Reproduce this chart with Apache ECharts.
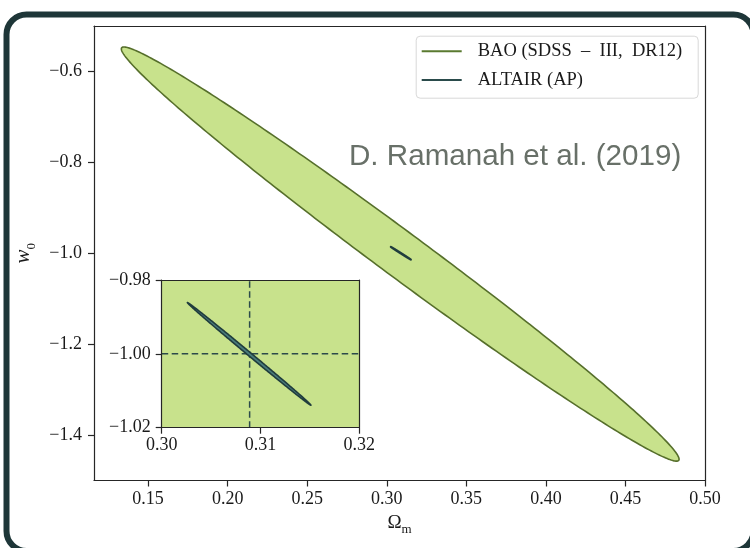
<!DOCTYPE html>
<html><head><meta charset="utf-8">
<script src="https://cdn.jsdelivr.net/npm/echarts@6/dist/echarts.min.js"></script>
<style>html,body{margin:0;padding:0;background:#fff}#c{width:750px;height:548px}</style>
</head><body><div id="c"></div>
<script>
// ---------- data ----------
const xTicks = [0.15, 0.20, 0.25, 0.30, 0.35, 0.40, 0.45, 0.50];
const yTicks = [-1.4, -1.2, -1.0, -0.8, -0.6];
const xRange = [0.116, 0.50];
const yRange = [-1.50, -0.50];
const insetXTicks = [0.30, 0.31, 0.32];
const insetYTicks = [-1.02, -1.00, -0.98];
const insetXRange = [0.30, 0.32];
const insetYRange = [-1.02, -0.98];
// confidence ellipses: two tips (Omega_m, w0) and vertical half-width at centre (w0 units)
const baoTips = [[0.1334, -0.548], [0.4835, -1.4556]];
const baoHalfWidth = 0.062;
const altairTips = [[0.3026, -0.9861], [0.3151, -1.0139]];
const altairHalfWidth = 0.0006;
const fiducial = [0.3089, -1.00];
const seriesNames = ['BAO (SDSS\u2002\u2013\u2002III,\u2002DR12)', 'ALTAIR (AP)'];
const creditText = 'D. Ramanah et al. (2019)';

// ---------- styles ----------
const SERIF = 'Liberation Serif';
const INK = '#1a1a1a';
const BAO_FILL = '#c8e28c', BAO_EDGE = '#566f2b';
const ALT_FILL = '#4a7c7c', ALT_EDGE = '#203d3d';
const DASH = '#2c4a4a';

function fmt(d) { return v => (v < 0 ? '\u2212' : '') + Math.abs(v).toFixed(d); }

function ellipseItem(fill, stroke, lw, clip) {
  return function (params, api) {
    const p1 = api.coord([api.value(0), api.value(1)]);
    const p2 = api.coord([api.value(2), api.value(3)]);
    const t = Math.abs(api.size([0, api.value(4)])[1]);
    const cx = (p1[0] + p2[0]) / 2, cy = (p1[1] + p2[1]) / 2;
    const dx = p2[0] - p1[0], dy = p2[1] - p1[1];
    const a = Math.hypot(dx, dy) / 2, th = Math.atan2(dy, dx);
    const s = Math.sin(th), c = Math.cos(th);
    const b = Math.abs(c) / Math.sqrt(1 / (t * t) - (s * s) / (a * a));
    const pts = [];
    for (let i = 0; i < 360; i++) {
      const ang = i / 360 * 2 * Math.PI;
      const u = a * Math.cos(ang), v = b * Math.sin(ang);
      pts.push([cx + u * c - v * s, cy + u * s + v * c]);
    }
    const el = { type: 'polygon', shape: { points: pts }, style: { fill: fill, stroke: stroke, lineWidth: lw } };
    if (clip) {
      const cs = params.coordSys;
      return { type: 'group', children: [el], clipPath: { type: 'rect', shape: { x: cs.x, y: cs.y, width: cs.width, height: cs.height } } };
    }
    return el;
  };
}

function axisPair(grid, pos, range, ticks, dec, z, showLabels, margin) {
  const lineStyle = { color: '#262626', width: 1.2 };
  return {
    type: 'value', gridIndex: grid, position: pos, min: range[0], max: range[1], z: z,
    axisLine: { show: true, onZero: false, lineStyle: lineStyle },
    axisTick: { show: showLabels, customValues: ticks, length: 6, inside: false, lineStyle: lineStyle },
    axisLabel: { show: showLabels, customValues: ticks, formatter: fmt(dec), margin: margin,
      fontFamily: SERIF, fontSize: 18, color: INK },
    splitLine: { show: false }
  };
}

const mainX = axisPair(0, 'bottom', xRange, xTicks, 2, 1, true, 10);
mainX.name = '{o|\u03A9}{s|m}';
mainX.nameLocation = 'middle';
mainX.nameGap = 29;
mainX.nameTextStyle = { rich: {
  o: { fontFamily: SERIF, fontSize: 19, color: INK, verticalAlign: 'bottom', padding: [0, 0, 4, 0] },
  s: { fontFamily: SERIF, fontSize: 13, color: INK, verticalAlign: 'bottom' } } };
const mainY = axisPair(0, 'left', yRange, yTicks, 1, 1, true, 12);
mainY.name = '{o|w}{s|0}';
mainY.nameLocation = 'middle';
mainY.nameRotate = 90;
mainY.nameGap = 55;
mainY.nameTextStyle = { rich: {
  o: { fontFamily: SERIF, fontStyle: 'italic', fontSize: 21, color: INK, verticalAlign: 'bottom', padding: [0, 0, 4, 0] },
  s: { fontFamily: SERIF, fontSize: 13, color: INK, verticalAlign: 'bottom' } } };

const option = {
  backgroundColor: '#ffffff',
  animation: false,
  grid: [
    { left: 94, top: 26, right: 45, bottom: 67.5 },
    { left: 161.7, top: 280, width: 197.6, height: 147.7, z: 5 }
  ],
  xAxis: [
    mainX,
    axisPair(0, 'top', xRange, xTicks, 2, 1, false, 10),
    axisPair(1, 'bottom', insetXRange, insetXTicks, 2, 10, true, 9),
    axisPair(1, 'top', insetXRange, insetXTicks, 2, 10, false, 9)
  ],
  yAxis: [
    mainY,
    axisPair(0, 'right', yRange, yTicks, 1, 1, false, 12),
    axisPair(1, 'left', insetYRange, insetYTicks, 2, 10, true, 11),
    axisPair(1, 'right', insetYRange, insetYTicks, 2, 10, false, 11)
  ],
  legend: {
    selectedMode: false, orient: 'vertical', left: 421.7, top: 41.7, padding: 0,
    itemWidth: 40, itemHeight: 2, itemGap: 9.8,
    textStyle: { fontFamily: SERIF, fontSize: 18.5, color: INK, padding: [0, 0, 0, 11] },
    data: [
      { name: seriesNames[0], icon: 'rect', itemStyle: { color: '#5a7a30' } },
      { name: seriesNames[1], icon: 'rect', itemStyle: { color: '#2a4b4b' } }
    ]
  },
  graphic: [
    { type: 'rect', left: 415.7, top: 35.7, z: -1, shape: { width: 282, height: 62, r: 4 },
      style: { fill: '#ffffff', stroke: '#d8d8d8', lineWidth: 1 } },
    { type: 'text', left: 349, top: 141.5, style: { text: creditText, font: '29.6px "Liberation Sans"', fill: '#687068' } },
    { type: 'rect', shape: { x: 6.5, y: 14.5, width: 747, height: 536.5, r: 20 },
      style: { fill: 'none', stroke: '#1e3638', lineWidth: 6 }, z: 100 }
  ],
  series: [
    { type: 'custom', name: seriesNames[0], xAxisIndex: 0, yAxisIndex: 0, z: 2,
      itemStyle: { color: BAO_FILL },
      renderItem: ellipseItem(BAO_FILL, BAO_EDGE, 1.6, false),
      data: [[baoTips[0][0], baoTips[0][1], baoTips[1][0], baoTips[1][1], baoHalfWidth]] },
    { type: 'custom', name: seriesNames[1], xAxisIndex: 0, yAxisIndex: 0, z: 2,
      itemStyle: { color: ALT_FILL },
      renderItem: ellipseItem(ALT_FILL, ALT_EDGE, 2.2, false),
      data: [[altairTips[0][0], altairTips[0][1], altairTips[1][0], altairTips[1][1], altairHalfWidth]] },
    { type: 'custom', name: seriesNames[0], xAxisIndex: 2, yAxisIndex: 2, z: 3, clip: true,
      itemStyle: { color: BAO_FILL },
      renderItem: ellipseItem(BAO_FILL, 'none', 0, true),
      data: [[baoTips[0][0], baoTips[0][1], baoTips[1][0], baoTips[1][1], baoHalfWidth]] },
    { type: 'line', name: 'fid-x', xAxisIndex: 2, yAxisIndex: 2, z: 4, symbol: 'none', silent: true,
      lineStyle: { color: DASH, width: 1.5, type: [6.5, 3.5] },
      data: [[fiducial[0], insetYRange[0]], [fiducial[0], insetYRange[1]]] },
    { type: 'line', name: 'fid-y', xAxisIndex: 2, yAxisIndex: 2, z: 4, symbol: 'none', silent: true,
      lineStyle: { color: DASH, width: 1.5, type: [6.5, 3.5] },
      data: [[insetXRange[0], fiducial[1]], [insetXRange[1], fiducial[1]]] },
    { type: 'custom', name: seriesNames[1], xAxisIndex: 2, yAxisIndex: 2, z: 5, clip: true,
      itemStyle: { color: ALT_FILL },
      renderItem: ellipseItem(ALT_FILL, ALT_EDGE, 1.6, true),
      data: [[altairTips[0][0], altairTips[0][1], altairTips[1][0], altairTips[1][1], altairHalfWidth]] }
  ]
};
const chart = echarts.init(document.getElementById('c'), null, { renderer: 'canvas' });
chart.setOption(option);
</script>
</body></html>
